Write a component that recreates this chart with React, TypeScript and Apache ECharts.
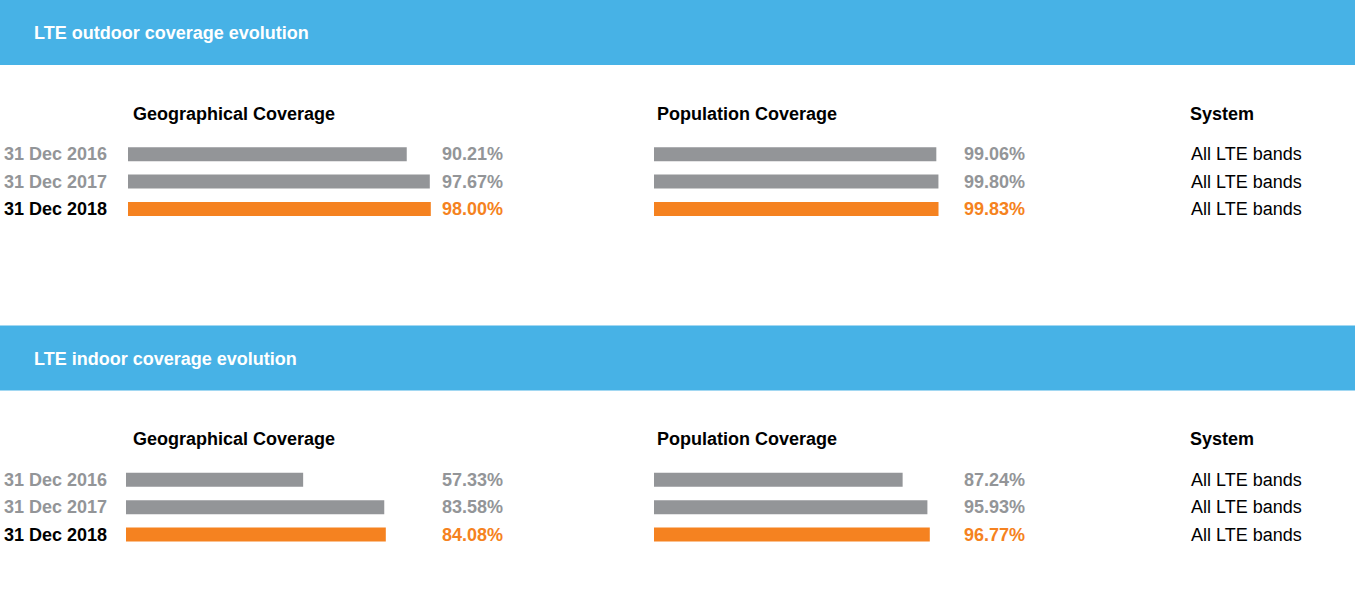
import React, { useEffect, useRef } from "react";
import * as echarts from "echarts";

const dates = ["31 Dec 2016", "31 Dec 2017", "31 Dec 2018"];
const outdoorGeo = [90.21, 97.67, 98.0];
const outdoorPop = [99.06, 99.8, 99.83];
const indoorGeo = [57.33, 83.58, 84.08];
const indoorPop = [87.24, 95.93, 96.77];
const systems = ["All LTE bands", "All LTE bands", "All LTE bands"];
const sectionTitles = ["LTE outdoor coverage evolution", "LTE indoor coverage evolution"];
const columnTitles = ["Geographical Coverage", "Population Coverage", "System"];

const FONT = '"Liberation Sans", Arial, Helvetica, sans-serif';
const BLUE = "#47B2E6";
const GRAY = "#939598";
const ORANGE = "#F58220";
const rowColors = [GRAY, GRAY, ORANGE];
const dateColors = [GRAY, GRAY, "#000000"];

export default function App() {
  const ref = useRef<HTMLDivElement>(null);

  useEffect(() => {
    if (!ref.current) return;
    const chart = echarts.init(ref.current, null, { renderer: "svg" });

    const sections = [
      { title: sectionTitles[0], geo: outdoorGeo, pop: outdoorPop, top: 0, geoLeft: 128 },
      { title: sectionTitles[1], geo: indoorGeo, pop: indoorPop, top: 325.6, geoLeft: 126 },
    ];

    const grids: any[] = [];
    const xAxes: any[] = [];
    const yAxes: any[] = [];
    const series: any[] = [];
    const graphic: any[] = [];

    const hiddenAxis = {
      axisLine: { show: false },
      axisTick: { show: false },
      splitLine: { show: false },
    };
    const GEO_W = 309;
    const POP_LEFT = 654;
    const POP_W = 285;
    const DATE_RIGHT = 107;

    sections.forEach((s) => {
      const gTop = s.top + 140.6;
      const gH = 82;
      graphic.push({
        type: "rect",
        shape: { x: 0, y: s.top, width: 1355, height: 65 },
        style: { fill: BLUE },
        silent: true,
      });
      graphic.push({
        type: "text",
        x: 34,
        y: s.top + 33,
        style: {
          text: s.title,
          fill: "#ffffff",
          fontSize: 18,
          fontWeight: "bold",
          fontFamily: FONT,
          verticalAlign: "middle",
        },
      });
      const headX = [133, 657, 1190];
      columnTitles.forEach((t, ci) => {
        graphic.push({
          type: "text",
          x: headX[ci],
          y: s.top + 113.5,
          style: {
            text: t,
            fill: "#000000",
            fontSize: 18,
            fontWeight: "bold",
            fontFamily: FONT,
            verticalAlign: "middle",
          },
        });
      });

      const panels = [
        { vals: s.geo, left: s.geoLeft, width: GEO_W, isGeo: true, labelX: 442 },
        { vals: s.pop, left: POP_LEFT, width: POP_W, isGeo: false, labelX: 964 },
      ];
      panels.forEach((p) => {
        const gi = grids.length;
        grids.push({
          left: p.left,
          top: gTop,
          width: p.width,
          height: gH,
          containLabel: false,
          outerBoundsMode: "none",
        });
        xAxes.push({ type: "value", gridIndex: gi, min: 0, max: 100, show: false });
        const leftIdx = yAxes.length;
        yAxes.push({
          type: "category",
          gridIndex: gi,
          position: "left",
          inverse: true,
          data: dates.map((d, i) => ({ value: d, textStyle: { color: dateColors[i] } })),
          show: p.isGeo,
          ...hiddenAxis,
          axisLabel: {
            show: p.isGeo,
            margin: p.left - DATE_RIGHT,
            fontSize: 18,
            fontWeight: "bold",
            fontFamily: FONT,
            padding: [2, 0, 0, 0],
          },
        });
        yAxes.push({
          type: "category",
          gridIndex: gi,
          position: "right",
          inverse: true,
          data: p.vals.map((v, i) => ({
            value: v.toFixed(2) + "%",
            textStyle: { color: rowColors[i] },
          })),
          ...hiddenAxis,
          axisLabel: {
            align: "left",
            margin: p.labelX - (p.left + p.width),
            fontSize: 18,
            fontWeight: "bold",
            fontFamily: FONT,
            padding: [2, 0, 0, 0],
          },
        });
        if (!p.isGeo) {
          yAxes.push({
            type: "category",
            gridIndex: gi,
            position: "right",
            offset: 1191 - (p.left + p.width),
            inverse: true,
            data: systems,
            ...hiddenAxis,
            axisLabel: {
              align: "left",
              margin: 0,
              color: "#000000",
              fontSize: 18,
              fontFamily: FONT,
              padding: [2, 0, 0, 0],
            },
          });
        }
        series.push({
          type: "bar",
          xAxisIndex: gi,
          yAxisIndex: leftIdx,
          barWidth: 14,
          data: p.vals.map((v, i) => ({ value: v, itemStyle: { color: rowColors[i] } })),
          silent: true,
        });
      });
    });

    chart.setOption({
      animation: false,
      backgroundColor: "#ffffff",
      grid: grids,
      xAxis: xAxes,
      yAxis: yAxes,
      series,
      graphic,
    });

    return () => chart.dispose();
  }, []);

  return (
    <div
      ref={ref}
      style={{ position: "absolute", left: 0, top: 0, width: 1355, height: 599 }}
    />
  );
}
